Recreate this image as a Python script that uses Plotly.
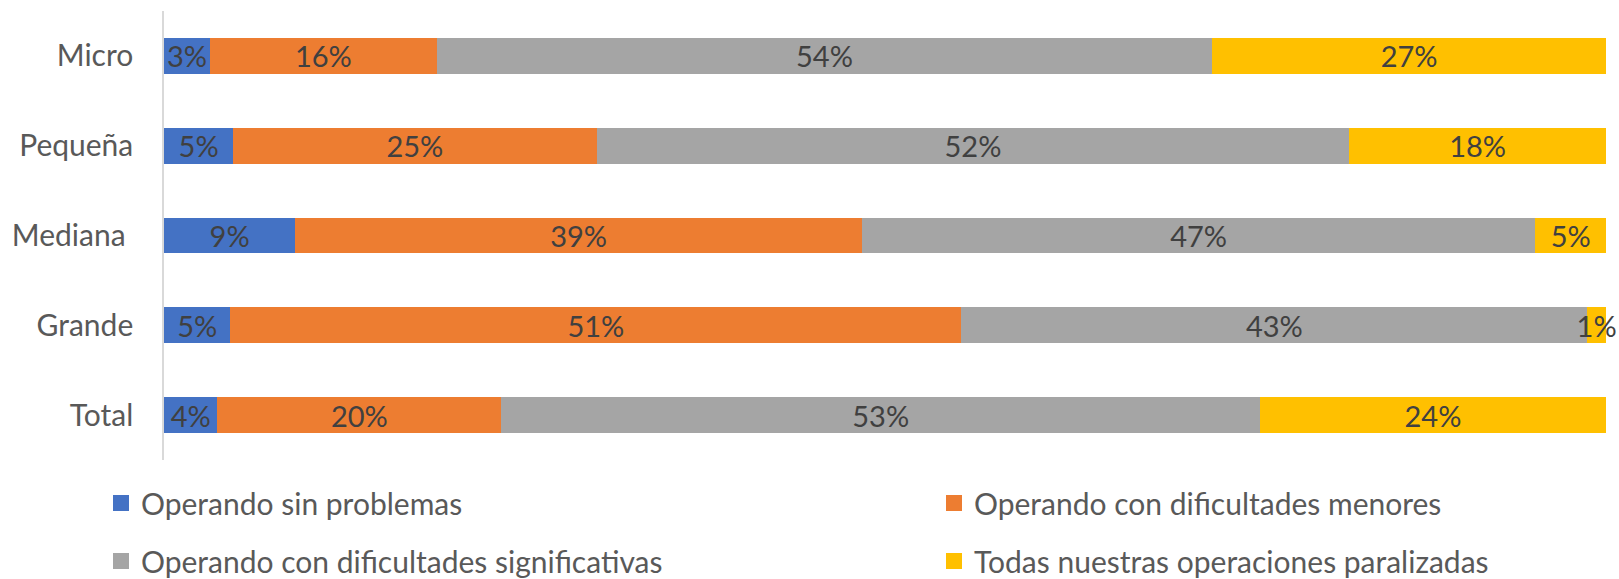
import plotly.graph_objects as go

categories = ["Micro", "Pequeña", "Mediana\u00a0", "Grande", "Total"]
series_names = [
    "Operando sin problemas",
    "Operando con dificultades menores",
    "Operando con dificultades significativas",
    "Todas nuestras operaciones paralizadas",
]
sin_problemas = [3.2, 4.8, 9.1, 4.6, 3.7]
dif_menores = [15.7, 25.2, 39.3, 50.7, 19.7]
dif_significativas = [53.8, 52.2, 46.7, 43.4, 52.6]
paralizadas = [27.3, 17.8, 4.9, 1.3, 24.0]

colors = ["#4472C4", "#ED7D31", "#A5A5A5", "#FFC000"]
values = [sin_problemas, dif_menores, dif_significativas, paralizadas]
legend_ids = ["legend", "legend2", "legend3", "legend4"]

FONT = "Lato"
fig = go.Figure()
for name, vals, col in zip(series_names, values, colors):
    fig.add_trace(go.Bar(
        y=categories, x=vals, name=name, orientation="h",
        marker=dict(color=col, line=dict(width=0)),
        texttemplate="%{x:.0f}%", textposition="inside",
        insidetextanchor="middle", textangle=0, constraintext="none",
        textfont=dict(family=FONT, size=29, color="#404040"),
        cliponaxis=False, showlegend=False,
    ))
# legend entries (square swatches)
for name, col, lg in zip(series_names, colors, legend_ids):
    fig.add_trace(go.Scatter(
        x=[None], y=[None], mode="markers", name=name,
        marker=dict(symbol="square", size=16, color=col),
        showlegend=True, legend=lg, hoverinfo="skip",
    ))

W, H = 1619, 579
ml, mr, mt, mb = 164, 13, 11, 119
ph = H - mt - mb
pw = W - ml - mr

def py(px):
    return (H - mb - px) / ph

def pxx(px):
    return (px - ml) / pw

leg_font = dict(family=FONT, size=30, color="#595959")
leg_pos = [(101, 503), (934, 503), (101, 561), (934, 561)]
leg_layout = {}
for lg, (lx, ly) in zip(legend_ids, leg_pos):
    leg_layout[lg] = dict(orientation="h", x=pxx(lx), xanchor="left", y=py(ly), yanchor="middle",
                          font=leg_font, bgcolor="rgba(0,0,0,0)", itemsizing="trace")

fig.update_layout(
    width=W, height=H,
    margin=dict(l=ml, r=mr, t=mt, b=mb, pad=0, autoexpand=False),
    barmode="stack", bargap=0.6,
    plot_bgcolor="white", paper_bgcolor="white",
    font=dict(family=FONT, size=30, color="#595959"),
    xaxis=dict(range=[0, 100], visible=False, fixedrange=True),
    yaxis=dict(categoryorder="array", categoryarray=categories, autorange="reversed",
               showline=True, linecolor="#D9D9D9", linewidth=1.5, showgrid=False,
               ticks="", ticklabelstandoff=23, tickfont=dict(family=FONT, size=30, color="#595959")),
    showlegend=True,
    **leg_layout,
)

fig.write_html("out.html", config={"displayModeBar": False},
               post_script="document.body.style.margin='0';document.body.style.overflow='hidden';")
